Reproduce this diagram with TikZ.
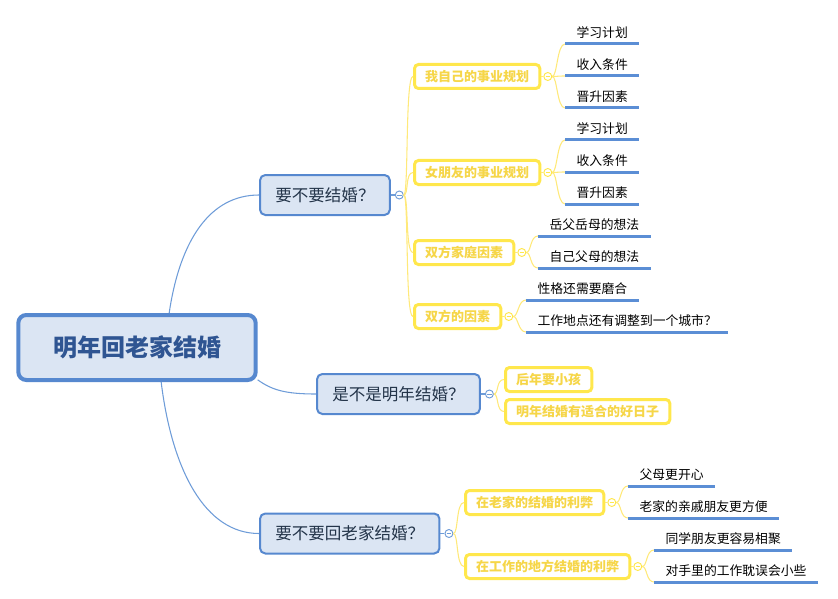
\documentclass[tikz,border=0pt]{standalone}
\usepackage{fontspec}
\setmainfont{Noto Sans CJK SC}
\usetikzlibrary{calc,positioning}
\definecolor{rootfill}{HTML}{DBE5F3}
\definecolor{rootline}{HTML}{5688CF}
\definecolor{roottext}{HTML}{2F5592}
\definecolor{topictext}{HTML}{233449}
\definecolor{trunkline}{HTML}{6E9CD8}
\definecolor{subline}{HTML}{FFE74C}
\definecolor{subtext}{HTML}{F6D648}
\definecolor{twigline}{HTML}{FFE97A}
\definecolor{leafline}{HTML}{5B8ED5}
\begin{document}
\begin{tikzpicture}[x=0.75pt,y=-0.75pt,
 root/.style={draw=rootline,line width=3pt,fill=rootfill,rounded corners=6pt,inner xsep=26pt,
  minimum height=48.75pt,text=roottext,font=\fontsize{18}{20}\selectfont\bfseries},
 topic/.style={draw=rootline,line width=1.5pt,fill=rootfill,rounded corners=4pt,inner xsep=11.5pt,
  minimum height=30pt,anchor=west,text=topictext,font=\fontsize{12.4}{14}\selectfont},
 sub/.style={draw=subline,line width=2.25pt,fill=white,rounded corners=3pt,inner xsep=8pt,
  minimum height=18pt,anchor=west,text=subtext,font=\fontsize{9.75}{11}\selectfont\bfseries},
 leaf/.style={anchor=south west,inner xsep=8.5pt,inner ysep=0pt,text height=8pt,text depth=4.5pt,
  font=\fontsize{9.6}{11}\selectfont},
 uline/.style={draw=leafline,line width=2.25pt},
 knob/.style={circle,draw=#1,fill=white,line width=0.7pt,inner sep=0pt,minimum size=6pt,
  path picture={\draw[#1,line width=0.7pt] ([xshift=-1.7pt]path picture bounding box.center)
   -- ([xshift=1.7pt]path picture bounding box.center);}},
 trunk/.style={draw=trunkline,line width=0.8pt},
 twig/.style={draw=twigline,line width=0.8pt},
 branch/.style={to path={.. controls ($(\tikztostart)+(5,0)$) and ($(\tikztotarget)+(-8,0)$) .. (\tikztotarget)}}]

\useasboundingbox (0,0) rectangle (838,599);

\node[root] (root) at (137,347.5) {明年回老家结婚};
%
\node[topic] (q1) at (259,195) {要不要结婚？};
\node[topic] (q2) at (316,394) {是不是明年结婚？};
\node[topic] (q3) at (259,533.5) {要不要回老家结婚？};
\node[knob=trunkline,right=3pt of q1] (k1) {};
\node[knob=trunkline,right=3pt of q2] (k2) {};
\node[knob=trunkline,right=3pt of q3] (k3) {};
%
\node[sub] (a1) at (413,76.5) {我自己的事业规划};
\node[sub] (a2) at (413,172.5) {女朋友的事业规划};
\node[sub] (a3) at (413,252.5) {双方家庭因素};
\node[sub] (a4) at (413,316.5) {双方的因素};
\node[sub] (b1) at (504,379.5) {后年要小孩};
\node[sub] (b2) at (504,411.5) {明年结婚有适合的好日子};
\node[sub] (c1) at (464,502.5) {在老家的结婚的利弊};
\node[sub] (c2) at (464,566.5) {在工作的地方结婚的利弊};
\foreach \N in {a1,a2,a3,a4,c1,c2}
 {\node[knob=subline,right=1.5pt of \N] (k\N) {};
  \draw[twig] (\N.east) -- (k\N.west);}
%
\draw[trunk] (root.47) .. controls (180,240) and (210,195) .. (q1.west);
\draw[trunk] (root.-15) .. controls (272,390) and (285,394) .. (q2.west);
\draw[trunk] (root.-55) .. controls (172,470) and (205,533.5) .. (q3.west);
\foreach \N in {1,2,3}
 {\draw[trunk] (q\N.east) -- (k\N.west);}
\foreach \K/\N in {k1/a1,k1/a2,k1/a3,k1/a4,k2/b1,k2/b2,k3/c1,k3/c2}
 {\draw[twig] (\K.east) to[branch] (\N.west);}
%
\foreach \K/\N/\X/\Y/\T in {
 ka1/l1/565/44/学习计划, ka1/l2/565/76/收入条件, ka1/l3/565/108/晋升因素,
 ka2/l4/565/140/学习计划, ka2/l5/565/172/收入条件, ka2/l6/565/204/晋升因素,
 ka3/l7/538/236/岳父岳母的想法, ka3/l8/538/268/自己父母的想法,
 ka4/l9/526/300/性格还需要磨合, ka4/l10/526/332/工作地点还有调整到一个城市？,
 kc1/l11/628/486/父母更开心, kc1/l12/628/518/老家的亲戚朋友更方便,
 kc2/l13/654/550/同学朋友更容易相聚, kc2/l14/654/582/对手里的工作耽误会小些}
 {\node[leaf] (\N) at (\X,\Y) {\T};
  \draw[twig] (\K.east) to[branch] (\N.south west);
  \draw[uline] (\N.south west) -- (\N.south east);}
\end{tikzpicture}
\end{document}
